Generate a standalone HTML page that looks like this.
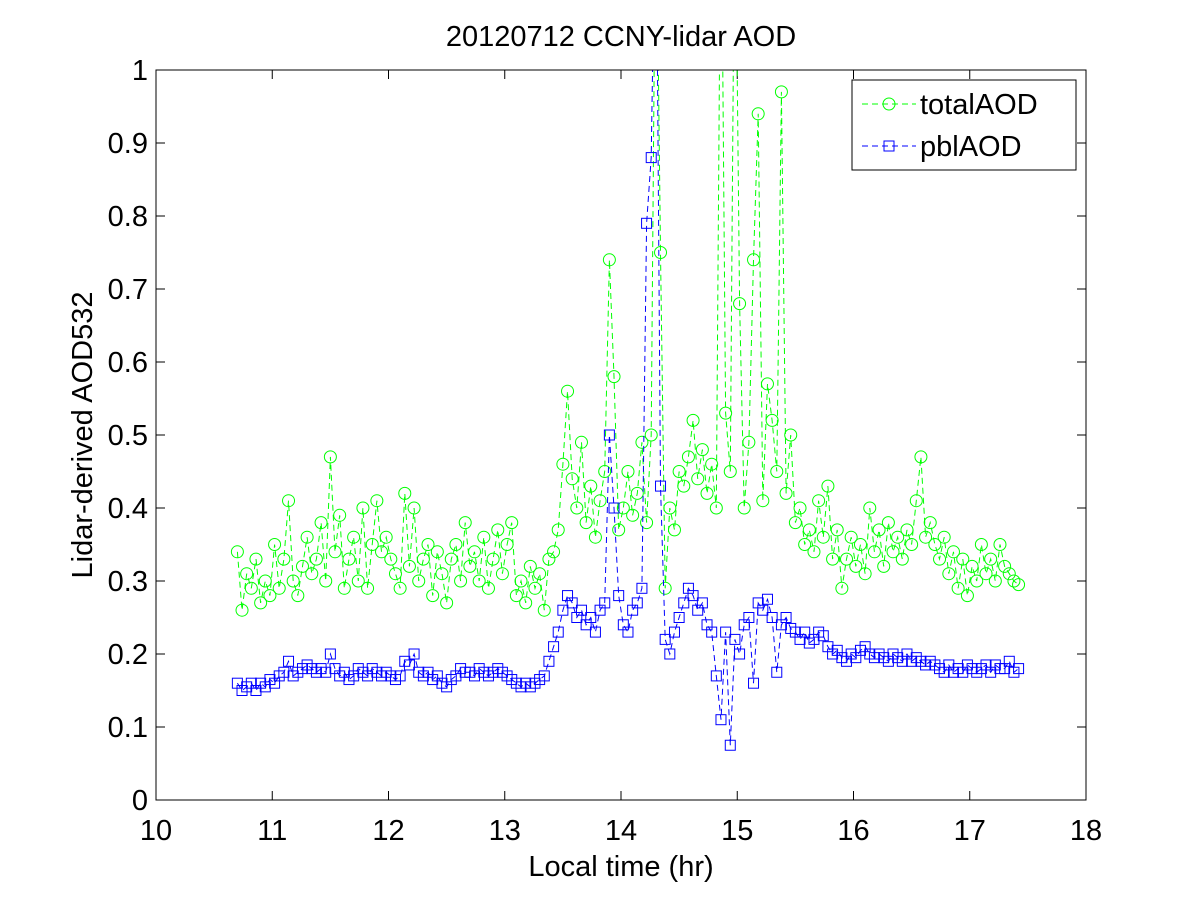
<!DOCTYPE html>
<html><head><meta charset="utf-8"><style>
body{margin:0;background:#fff;}
svg text{font-family:"Liberation Sans",Arial,sans-serif;fill:#000;}
</style></head><body>
<svg id="chart" width="1200" height="900" viewBox="0 0 1200 900">
<rect width="1200" height="900" fill="#fff"/>
<defs><clipPath id="clip"><rect x="156" y="70" width="930" height="730"/></clipPath></defs>
<text x="621" y="46" font-size="29" text-anchor="middle">20120712 CCNY-lidar AOD</text>
<text x="621" y="876" font-size="29" text-anchor="middle">Local time (hr)</text>
<text transform="translate(92,435) rotate(-90)" font-size="29" text-anchor="middle">Lidar-derived AOD532</text>
<g id="axes"></g>
<g id="series" clip-path="url(#clip)"></g>
<rect x="156" y="70" width="930" height="730" fill="none" stroke="#000" stroke-width="1"/>
<g id="legend">
<rect x="852" y="80" width="224" height="90" fill="#fff" stroke="#000"/>
<g>
<line x1="862" y1="104" x2="916" y2="104" stroke="#00ff00" stroke-dasharray="6,4"/>
<circle cx="889" cy="104" r="6" fill="none" stroke="#00ff00"/>
<text x="920" y="114" font-size="29">totalAOD</text></g>
<g>
<line x1="862" y1="146" x2="916" y2="146" stroke="#0000ff" stroke-dasharray="6,4"/>
<rect x="884" y="141" width="10" height="10" fill="none" stroke="#0000ff"/>
<text x="920" y="156" font-size="29">pblAOD</text></g>
</g>
</svg>
<script>
const xTicks=[10,11,12,13,14,15,16,17,18];
const yTicks=[0,0.1,0.2,0.3,0.4,0.5,0.6,0.7,0.8,0.9,1];
const yTickLabels=["0","0.1","0.2","0.3","0.4","0.5","0.6","0.7","0.8","0.9","1"];
const startTime=10.70, timeStep=0.04;
const totalAOD=[.34,.26,.31,.29,.33,.27,.30,.28,.35,.29,
.33,.41,.30,.28,.32,.36,.31,.33,.38,.30,
.47,.34,.39,.29,.33,.36,.30,.40,.29,.35,
.41,.34,.36,.33,.31,.29,.42,.32,.40,.30,
.33,.35,.28,.34,.31,.27,.33,.35,.30,.38,
.32,.34,.30,.36,.29,.33,.37,.31,.35,.38,
.28,.30,.27,.32,.29,.31,.26,.33,.34,.37,
.46,.56,.44,.40,.49,.38,.43,.36,.41,.45,
.74,.58,.37,.40,.45,.39,.42,.49,.38,.50,
1.3,.75,.29,.40,.37,.45,.43,.47,.52,.44,
.48,.42,.46,.40,1.3,.53,.45,1.3,.68,.40,
.49,.74,.94,.41,.57,.52,.45,.97,.42,.50,
.38,.40,.35,.37,.34,.41,.36,.43,.33,.37,
.29,.33,.36,.32,.35,.31,.40,.34,.37,.32,
.38,.34,.36,.33,.37,.35,.41,.47,.36,.38,
.35,.33,.36,.31,.34,.29,.33,.28,.32,.30,
.35,.31,.33,.30,.35,.32,.31,.30,.295];
const pblAOD=[.16,.15,.155,.16,.15,.16,.155,.165,.16,.17,
.175,.19,.17,.175,.18,.185,.18,.175,.18,.175,
.20,.18,.17,.175,.165,.17,.18,.175,.17,.18,
.175,.17,.175,.17,.165,.17,.19,.185,.2,.175,
.17,.175,.165,.17,.16,.155,.165,.17,.18,.175,
.175,.17,.18,.175,.17,.175,.18,.175,.17,.165,
.16,.155,.16,.155,.16,.165,.17,.19,.21,.23,
.26,.28,.27,.25,.26,.24,.25,.23,.26,.27,
.50,.40,.28,.24,.23,.26,.27,.29,.79,.88,
1.3,.43,.22,.20,.23,.25,.27,.29,.28,.26,
.27,.24,.23,.17,.11,.23,.075,.22,.20,.24,
.25,.16,.27,.26,.275,.25,.175,.24,.25,.235,
.23,.22,.23,.215,.22,.23,.225,.21,.2,.205,
.195,.19,.2,.195,.205,.21,.2,.195,.2,.195,
.19,.2,.195,.19,.2,.19,.195,.19,.185,.19,
.185,.18,.175,.185,.175,.18,.175,.185,.18,.175,
.18,.185,.175,.185,.18,.18,.19,.175,.18];
const X0=156,X1=1086,Y0=800,Y1=70;
const xs=t=>X0+(t-10)/8*(X1-X0);
const ys=v=>Y0-v*(Y0-Y1);
const NS="http://www.w3.org/2000/svg";
const axes=document.getElementById('axes');
function mk(tag,attrs,parent){const e=document.createElementNS(NS,tag);for(const k in attrs)e.setAttribute(k,attrs[k]);parent.appendChild(e);return e;}
xTicks.forEach(t=>{
 const x=xs(t);
 const a=mk('line',{x1:x,x2:x,y1:Y0,y2:Y0-9,stroke:'#000'},axes);
 
 
 mk('line',{x1:x,x2:x,y1:Y1,y2:Y1+9,stroke:'#000'},axes);
 const tx=mk('text',{x:x,y:840,'font-size':29,'text-anchor':'middle'},axes);
 tx.textContent=String(t);
 
 
});
yTicks.forEach((v,i)=>{
 const y=ys(v);
 const a=mk('line',{x1:X0,x2:X0+9,y1:y,y2:y,stroke:'#000'},axes);
 
 
 mk('line',{x1:X1,x2:X1-9,y1:y,y2:y,stroke:'#000'},axes);
 const tx=mk('text',{x:148,y:y+10,'font-size':29,'text-anchor':'end'},axes);
 tx.textContent=yTickLabels[i];
 
 
});
const series=document.getElementById('series');
function draw(vals,color,marker,name){
 const g=mk('g',{},series);
 
 
 const pts=vals.map((v,i)=>xs(startTime+i*timeStep).toFixed(1)+','+ys(v).toFixed(1)).join(' ');
 const pl=mk('polyline',{points:pts,fill:'none',stroke:color,'stroke-width':1,'stroke-dasharray':'6,4'},g);
 
 
 vals.forEach((v,i)=>{
  const x=xs(startTime+i*timeStep),y=ys(v);
  let m;
  if(marker==='circle') m=mk('circle',{cx:x,cy:y,r:6,fill:'none',stroke:color},g);
  else m=mk('rect',{x:x-5,y:y-5,width:10,height:10,fill:'none',stroke:color},g);
  
  
 });
}
draw(totalAOD,'#00ff00','circle','total-aod');
draw(pblAOD,'#0000ff','square','pbl-aod');
</script>
</body></html>
